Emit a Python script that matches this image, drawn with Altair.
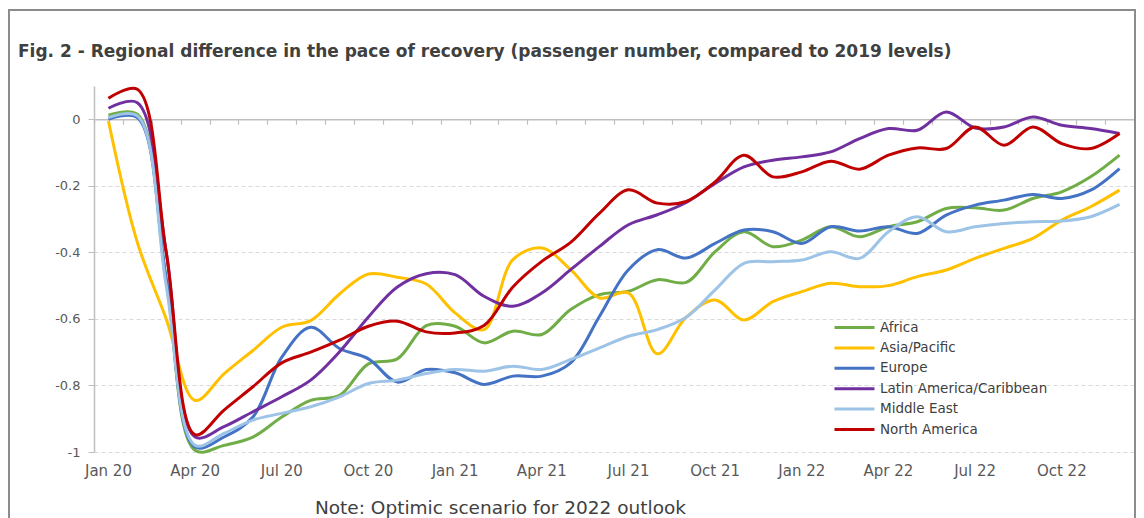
import altair as alt
import pandas as pd

months = ["Jan 20", "Feb 20", "Mar 20", "Apr 20", "May 20", "Jun 20", "Jul 20", "Aug 20", "Sep 20",
          "Oct 20", "Nov 20", "Dec 20", "Jan 21", "Feb 21", "Mar 21", "Apr 21", "May 21", "Jun 21",
          "Jul 21", "Aug 21", "Sep 21", "Oct 21", "Nov 21", "Dec 21", "Jan 22", "Feb 22", "Mar 22",
          "Apr 22", "May 22", "Jun 22", "Jul 22", "Aug 22", "Sep 22", "Oct 22", "Nov 22", "Dec 22"]
label_months = ["Jan 20", "Apr 20", "Jul 20", "Oct 20", "Jan 21", "Apr 21", "Jul 21", "Oct 21",
                "Jan 22", "Apr 22", "Jul 22", "Oct 22"]

regions = ["Africa", "Asia/Pacific", "Europe", "Latin America/Caribbean", "Middle East", "North America"]
colors = ["#70AD47", "#FFC000", "#4472C4", "#7030A0", "#9DC3E6", "#C00000"]

africa = [0.012, 0.015, -0.48, -0.995, -0.98, -0.955, -0.895, -0.845, -0.83, -0.735, -0.72, -0.62,
          -0.622, -0.672, -0.637, -0.647, -0.572, -0.527, -0.517, -0.482, -0.49, -0.398, -0.338, -0.383,
          -0.363, -0.323, -0.353, -0.323, -0.308, -0.268, -0.266, -0.273, -0.238, -0.218, -0.173, -0.108]
asia_pacific = [-0.005, -0.37, -0.60, -0.845, -0.765, -0.695, -0.625, -0.605, -0.525, -0.465, -0.475, -0.495,
                -0.582, -0.632, -0.422, -0.387, -0.452, -0.537, -0.522, -0.705, -0.595, -0.543, -0.603, -0.548,
                -0.518, -0.493, -0.503, -0.50, -0.473, -0.453, -0.418, -0.388, -0.358, -0.303, -0.263, -0.213]
europe = [0.0, 0.005, -0.48, -0.985, -0.955, -0.895, -0.715, -0.625, -0.689, -0.72, -0.79, -0.752,
          -0.762, -0.797, -0.772, -0.772, -0.732, -0.592, -0.452, -0.392, -0.417, -0.373, -0.333, -0.338,
          -0.373, -0.323, -0.336, -0.323, -0.343, -0.288, -0.258, -0.243, -0.226, -0.238, -0.213, -0.148]
latin_america = [0.033, 0.05, -0.40, -0.955, -0.924, -0.879, -0.834, -0.784, -0.699, -0.594, -0.504, -0.464,
                 -0.467, -0.532, -0.562, -0.522, -0.452, -0.382, -0.317, -0.287, -0.25, -0.193, -0.143, -0.123,
                 -0.113, -0.098, -0.058, -0.028, -0.033, 0.022, -0.026, -0.023, 0.007, -0.018, -0.028, -0.043]
middle_east = [0.005, 0.01, -0.50, -0.98, -0.944, -0.904, -0.884, -0.864, -0.834, -0.794, -0.784, -0.764,
               -0.752, -0.757, -0.742, -0.752, -0.722, -0.687, -0.652, -0.632, -0.595, -0.513, -0.433, -0.428,
               -0.423, -0.398, -0.418, -0.338, -0.293, -0.338, -0.323, -0.313, -0.308, -0.306, -0.293, -0.256]
north_america = [0.063, 0.09, -0.40, -0.948, -0.874, -0.804, -0.732, -0.70, -0.664, -0.622, -0.607, -0.639,
                 -0.642, -0.62, -0.504, -0.427, -0.37, -0.282, -0.212, -0.252, -0.247, -0.188, -0.108, -0.173,
                 -0.158, -0.126, -0.15, -0.108, -0.086, -0.088, -0.023, -0.078, -0.023, -0.073, -0.088, -0.043]

series = [africa, asia_pacific, europe, latin_america, middle_east, north_america]
y_ticks = [0, -0.2, -0.4, -0.6, -0.8, -1]
title_text = "Fig. 2 - Regional difference in the pace of recovery (passenger number, compared to 2019 levels)"
note_text = "Note: Optimic scenario for 2022 outlook"

rows = []
for name, vals in zip(regions, series):
    for m, v in zip(months, vals):
        rows.append({"month": m, "region": name, "value": v})
df = pd.DataFrame(rows)

FONT = "DejaVu Sans"
TXT = "#595959"
W, H = 1040, 366
Y_DOMAIN = [-1, 0.1]
zero_px = H * (Y_DOMAIN[1] / (Y_DOMAIN[1] - Y_DOMAIN[0]))

x_scale = alt.Scale(type="band", paddingInner=0, paddingOuter=0)
y_scale = alt.Scale(domain=Y_DOMAIN, nice=False, zero=False)

x_labels = alt.X("month:O", sort=months, scale=x_scale, bandPosition=0.5,
                 axis=alt.Axis(orient="bottom", values=label_months, labelAngle=0, domain=False,
                               ticks=False, tickSize=0, grid=False, labelPadding=11,
                               labelFont=FONT, labelFontSize=15, labelColor=TXT,
                               title=note_text,
                               titleFont=FONT, titleFontSize=18.5, titleFontWeight="normal",
                               titleColor="#404040", titleX=406, titleY=55,
                               titleAlign="center", titleBaseline="middle"))
x_ticks = alt.X("month:O", sort=months, scale=x_scale, bandPosition=0.5,
                axis=alt.Axis(orient="bottom", offset=-(H - zero_px), labels=False,
                              tickBand="extent", tickSize=5, tickColor="#bfbfbf", tickWidth=1.2,
                              domainColor="#bfbfbf", domainWidth=1.5, grid=False, title=None))

y_enc = alt.Y("value:Q", scale=y_scale,
              axis=alt.Axis(values=y_ticks, title=None, grid=True, gridDash=[4, 3], gridColor="#d9d9d9",
                            domainColor="#bfbfbf", domainWidth=1.5, tickColor="#bfbfbf", tickSize=6,
                            labelPadding=8, labelFont=FONT, labelFontSize=13, labelColor=TXT,
                            labelExpr="(datum.value < 0 ? '-' : '') + format(abs(datum.value), '~g')"))

one = pd.DataFrame({"a": [0]})
frame = alt.Chart(one).mark_rect(
    filled=False, stroke="#8c8c8c", strokeWidth=2, clip=False
).encode(x=alt.value(-85), x2=alt.value(1041), y=alt.value(-76), y2=alt.value(450))

title = alt.Chart(one).mark_text(
    text=title_text, align="left", baseline="alphabetic", font=FONT, fontSize=17,
    fontWeight="bold", color="#404040"
).encode(x=alt.value(-76), y=alt.value(-29))

tick_layer = alt.Chart(df).mark_point(opacity=0).encode(x=x_ticks, y=y_enc)

lines = alt.Chart(df).mark_line(interpolate="catmull-rom", strokeWidth=3).encode(
    x=x_labels,
    y=y_enc,
    color=alt.Color("region:N", sort=regions,
                    scale=alt.Scale(domain=regions, range=colors),
                    legend=alt.Legend(title=None, orient="none", legendX=739, legendY=230,
                                      symbolType="M-1,0H3", symbolSize=400, symbolStrokeWidth=3,
                                      labelFont=FONT, labelFontSize=13.5, labelColor="#404040",
                                      labelOffset=24, labelLimit=400, rowPadding=2.4, padding=0)),
    detail="region:N",
)

chart = alt.layer(frame, title, tick_layer, lines).resolve_axis(x="independent").properties(
    width=W, height=H,
    autosize=alt.AutoSizeParams(type="none"),
    padding={"left": 86, "top": 78, "right": 2, "bottom": 66},
).configure_view(stroke=None)

chart.save("out.html", embed_options={"renderer": "svg", "actions": False})
